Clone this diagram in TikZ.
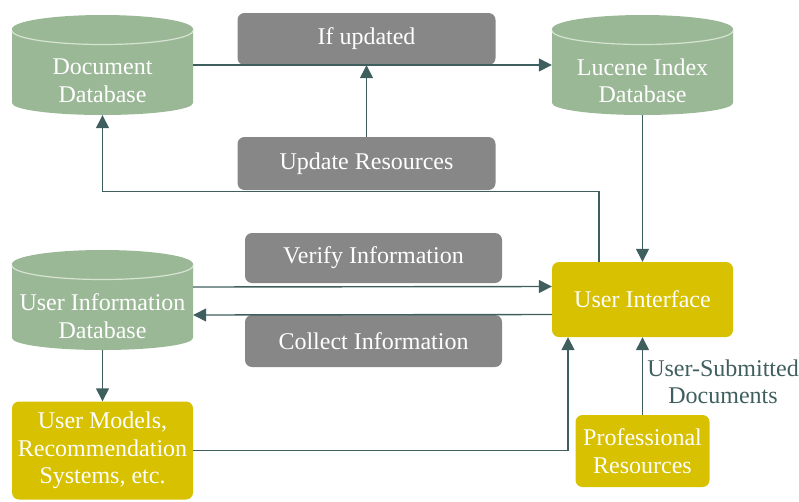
\documentclass[tikz,border=0pt]{standalone}
\usepackage{fontspec}
\setmainfont{Liberation Serif}
\usetikzlibrary{arrows.meta}
\definecolor{dbgreen}{HTML}{9AB896}
\definecolor{boxgray}{HTML}{878787}
\definecolor{uiyellow}{HTML}{D7C100}
\definecolor{linecol}{HTML}{3F5F5E}
\definecolor{seamcol}{HTML}{D6E3D3}
\newcommand\mydbcyl[4]{%
  \fill[dbgreen] (#2-90.5,#3+14) -- (#2-90.5,#3+88)
     arc[start angle=180,end angle=0,x radius=90.5,y radius=12]
     -- (#2+90.5,#3+14) -- cycle;
  \fill[dbgreen] (#2,#3+14) ellipse[x radius=90.5,y radius=14];
  \draw[seamcol, line width=1.2pt] (#2-90.5,#3+15.5)
     arc[start angle=180,end angle=0,x radius=90.5,y radius=14];
  \node[cylshape] (#1) at (#2,#3+50) {};
  \node[txt] (#1-t) at (#2,#3+66) {#4};
}
\begin{document}
\begin{tikzpicture}[x=1pt,y=-1pt,
  txt/.style={text=white, font=\fontsize{24}{27.5}\selectfont, align=center},
  graybox/.style={txt, fill=boxgray, rounded corners=7pt, inner sep=0pt},
  yelbox/.style={txt, fill=uiyellow, rounded corners=7pt, inner sep=0pt},
  cylshape/.style={minimum width=181pt, minimum height=100pt, inner sep=0pt},
  conn/.style={draw=linecol, line width=1.4pt, -{Triangle[length=13pt,width=13pt]}},
  lbl/.style={text=linecol, font=\fontsize{24}{27.5}\selectfont, align=center}]
\useasboundingbox (0,0) rectangle (799,501);

\mydbcyl{docdb}{102.5}{15}{Document\\Database}
\mydbcyl{lucene}{642.5}{15}{Lucene Index\\Database}
\mydbcyl{uidb}{102.5}{250}{User Information\\Database}

\node[graybox, minimum width=258pt, minimum height=52pt] (ifupd) at (366.5,39) {If updated};
\node[graybox, minimum width=258pt, minimum height=53pt] (upres) at (366.5,163.5) {Update Resources};
\node[graybox, minimum width=257pt, minimum height=50pt] (verify) at (373.5,258) {Verify Information};
\node[graybox, minimum width=257pt, minimum height=52pt] (collect) at (373.5,341) {Collect Information};
\node[yelbox, minimum width=181pt, minimum height=75pt] (ui) at (642.5,299.5) {User Interface};
\node[yelbox, minimum width=181pt, minimum height=98pt] (models) at (102.5,450.5) {User Models,\\Recommendation\\Systems, etc.};
\node[yelbox, minimum width=134pt, minimum height=72pt] (prof) at (642.5,451) {Professional\\Resources};
\node[lbl] (usd) at (723,382) {User-Submitted\\Documents};

\draw[conn] (docdb.east) -- (lucene.west);
\draw[conn] (upres.north) -- (ifupd.south);
\draw[conn] ([xshift=-43.5pt]ui.north) |- ([yshift=-76pt]docdb.south) -- (docdb.south);
\draw[conn] (lucene.south) -- (ui.north);
\draw[conn] ([yshift=13pt]uidb.east) -- ([yshift=13pt]ui.west);
\draw[conn] ([yshift=-15pt]ui.west) -- ([yshift=-15pt]uidb.east);
\draw[conn] (uidb.south) -- (models.north);
\draw[conn] (models.east) -| ([xshift=-74.5pt]ui.south);
\draw[conn] (prof.north) -- (ui.south);
\end{tikzpicture}
\end{document}
